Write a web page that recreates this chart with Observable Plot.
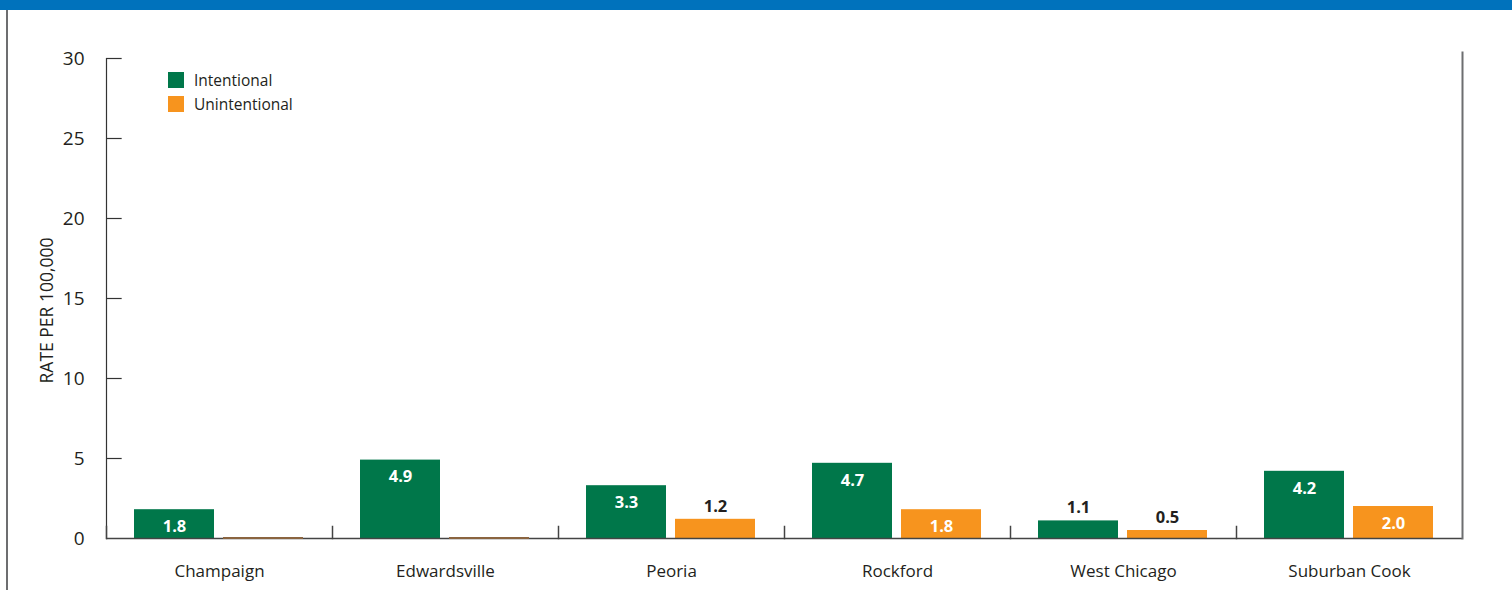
<!DOCTYPE html>
<html>
<head>
<meta charset="utf-8">
<script src="https://cdn.jsdelivr.net/npm/d3@7"></script>
<script src="https://cdn.jsdelivr.net/npm/@observablehq/plot@0.6"></script>
<style>
  html, body { margin: 0; padding: 0; background: #fff; }
  #wrap { position: relative; width: 1512px; height: 590px; overflow: hidden; font-family: "Open Sans", sans-serif; color: #231F20; }
  #topband { position: absolute; left: 0; top: 0; width: 1512px; height: 10px; background: #0072BC; z-index: 2; }
  #leftline { position: absolute; left: 6px; top: 10px; width: 2px; height: 580px; background: #6d6e70; z-index: 2; }
  #chart { position: absolute; left: 0; top: 0; }
  #legend { position: absolute; left: 168px; top: 68px; font-size: 15.5px; line-height: 24px; z-index: 3; }
  .row { display: flex; align-items: center; height: 24px; }
  .sw { width: 16px; height: 16px; margin-right: 10px; }
</style>
</head>
<body>
<div id="wrap">
  <div id="topband"></div>
  <div id="leftline"></div>
  <div id="chart"></div>
  <div id="legend"></div>
</div>
<script>
const categories = ["Champaign", "Edwardsville", "Peoria", "Rockford", "West Chicago", "Suburban Cook"];
const types = ["Intentional", "Unintentional"];
const intentional = [1.8, 4.9, 3.3, 4.7, 1.1, 4.2];
const unintentional = [0, 0, 1.2, 1.8, 0.5, 2.0];
const yTicks = [0, 5, 10, 15, 20, 25, 30];
const colors = ["#00774A", "#F7941E"];

const rows = [];
categories.forEach((c, i) => {
  rows.push({category: c, type: types[0], value: intentional[i]});
  rows.push({category: c, type: types[1], value: unintentional[i]});
});
const inside = rows.filter(d => d.value >= 1.5);
const outside = rows.filter(d => d.value > 0 && d.value < 1.5);
const zeros = rows.filter(d => d.value === 0);

const W = 1512, H = 590, ML = 105, MR = 49, MT = 58, MB = 52;
const facetW = (W - ML - MR) / categories.length;

const plot = Plot.plot({
  width: W,
  height: H,
  marginLeft: ML,
  marginRight: MR,
  marginTop: MT,
  marginBottom: MB,
  style: {fontFamily: "'Open Sans', sans-serif", color: "#231F20", background: "transparent"},
  fx: {domain: categories, padding: 0, label: null},
  x: {domain: types, axis: null, paddingInner: 0.1, paddingOuter: 0.31},
  y: {domain: [0, 30], label: null},
  color: {domain: types, range: colors},
  marks: [
    Plot.axisY(yTicks, {anchor: "left", tickSize: 0, tickPadding: 22, fontSize: 19, label: null}),
    Plot.axisFx({anchor: "bottom", tickSize: 0, tickPadding: 26, fontSize: 17, label: null}),
    Plot.text(["RATE PER 100,000"], {facetAnchor: "left", frameAnchor: "left", textAnchor: "middle", rotate: -90, dx: -59, dy: 12, fontSize: 17.5, text: d => d}),
    Plot.barY(rows, {fx: "category", x: "type", y: "value", fill: "type"}),
    Plot.ruleY([0], {stroke: "#444", strokeWidth: 1.5}),
    Plot.barY(zeros, {fx: "category", x: "type", y: "value", fill: "#8a6440", insetTop: -1, insetBottom: -1}),
    Plot.tickY(yTicks.filter(d => d > 0), {y: d => d, facetAnchor: "left", insetRight: facetW - 16, stroke: "#333", strokeWidth: 1.2}),
    Plot.frame({anchor: "left", facetAnchor: "left", stroke: "#333", strokeWidth: 1.2}),
    Plot.frame({anchor: "left", insetTop: (H - MT - MB) - 12, stroke: "#444", strokeWidth: 1.5}),
    Plot.frame({anchor: "right", facetAnchor: "right", insetTop: -6, stroke: "#6d6e70", strokeWidth: 2}),
    Plot.text(inside, {fx: "category", x: "type", y: "value", text: d => d.value.toFixed(1), dy: 17, fill: "white", fontWeight: "bold", fontSize: 16.5}),
    Plot.text(outside, {fx: "category", x: "type", y: "value", text: d => d.value.toFixed(1), dy: -13, fill: "#231F20", fontWeight: "bold", fontSize: 16.5})
  ]
});
document.getElementById("chart").appendChild(plot);

const legend = document.getElementById("legend");
types.forEach((t, i) => {
  const row = document.createElement("div");
  row.className = "row";
  const sw = document.createElement("div");
  sw.className = "sw";
  sw.style.background = colors[i];
  const lab = document.createElement("span");
  lab.textContent = t;
  row.appendChild(sw);
  row.appendChild(lab);
  legend.appendChild(row);
});
</script>
</body>
</html>
